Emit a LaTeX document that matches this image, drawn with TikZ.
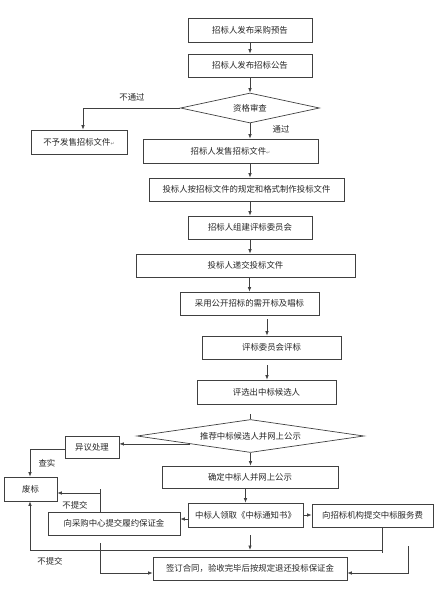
\documentclass[tikz,border=0pt]{standalone}
\usepackage{fontspec}
\setmainfont{Noto Sans CJK SC}
\newfontfamily\djv{DejaVu Sans}
\usetikzlibrary{arrows.meta,shapes.geometric,calc}
\newcommand{\pmark}{{\djv\fontsize{5}{5}\selectfont\color{gray}↵}}
\begin{document}
\begin{tikzpicture}[x=1pt,y=-1pt,
  every node/.style={font=\fontsize{8.4}{9}\selectfont, text=black!85},
  box/.style={draw=black!75, line width=0.7pt, rectangle, inner sep=1pt},
  dia/.style={draw=black!75, line width=0.7pt, diamond, aspect=4, inner sep=0pt},
  ln/.style={draw=black!75, line width=0.7pt},
  arr/.style={ln, -{Latex[length=4.5pt,width=3.5pt]}},
  lab/.style={inner sep=0pt}]
\useasboundingbox (0,0) rectangle (441,606);
% nodes
\node[box, minimum width=124pt, minimum height=24pt] (b1) at (250,30) {招标人发布采购预告};
\node[box, minimum width=124pt, minimum height=23pt] (b2) at (250,65.5) {招标人发布招标公告};
\node[dia, minimum width=139pt, minimum height=30pt] (d1) at (250,108) {资格审查};
\node[box, minimum width=96pt, minimum height=24pt] (bn) at (79,142) {不予发售招标文件\pmark};
\node[box, minimum width=175pt, minimum height=24pt] (b3) at (230.5,151) {招标人发售招标文件\pmark};
\node[box, minimum width=195pt, minimum height=23pt] (b4) at (246.5,189.5) {投标人按招标文件的规定和格式制作投标文件};
\node[box, minimum width=124pt, minimum height=23pt] (b5) at (250,227.5) {招标人组建评标委员会};
\node[box, minimum width=219pt, minimum height=23pt] (b6) at (245.5,265.5) {投标人递交投标文件};
\node[box, minimum width=139pt, minimum height=23pt] (b7) at (249.5,303.5) {采用公开招标的需开标及唱标};
\node[box, minimum width=139pt, minimum height=23pt] (b8) at (271.5,347.5) {评标委员会评标};
\node[box, minimum width=139pt, minimum height=24pt] (b9) at (266.5,392) {评选出中标候选人};
\node[dia, minimum width=227pt, minimum height=30pt] (d2) at (250.5,436) {推荐中标候选人并网上公示};
\node[box, minimum width=54pt, minimum height=22pt] (byi) at (92,447) {异议处理};
\node[box, minimum width=53pt, minimum height=24pt] (bfei) at (30.5,489) {废标};
\node[box, minimum width=176pt, minimum height=22pt] (bque) at (250,477) {确定中标人并网上公示};
\node[box, minimum width=115pt, minimum height=24pt] (bzb) at (245.5,515) {中标人领取《中标通知书》};
\node[box, minimum width=121pt, minimum height=23pt] (bfw) at (372.5,515.5) {向招标机构提交中标服务费};
\node[box, minimum width=132pt, minimum height=23pt] (bcg) at (114,523.5) {向采购中心提交履约保证金};
\node[box, minimum width=194pt, minimum height=23pt] (bht) at (250,568.5) {签订合同，验收完毕后按规定退还投标保证金};
% labels
\node[lab] (l1) at (132,97) {不通过};
\node[lab] (l2) at (281,129) {通过};
\node[lab] (l3) at (47,463) {查实};
\node[lab] (l4) at (75,505) {不提交};
\node[lab] (l5) at (50,561) {不提交};
% helper coordinates
\coordinate (cA) at (83,108);
\coordinate (cB) at (30,449);
\coordinate (cC) at (100,489);
\coordinate (cD) at (100,493);
\coordinate (cE) at (100,573);
\coordinate (cL) at (30,550);
\coordinate (cR) at (382,550);
\coordinate (cM) at (250,550);
\coordinate (cF) at (408,546);
\coordinate (cG) at (408,573);
\coordinate (cX) at (267,0);
\coordinate (cQ) at ($(d2.west)!0.47!(d2.south)$);
% connectors
\draw[arr] (b1) -- (b2);
\draw[arr] (b2) -- (d1);
\draw[arr] (d1.west) -- (cA) -- (bn.north -| cA);
\draw[arr] (d1.south) -- (d1.south |- b3.north);
\draw[arr] (b3.south -| b5.north) -- (b4.north -| b5.north);
\draw[arr] (b4.south -| b5.north) -- (b5.north);
\draw[arr] (b5) -- (b6.north -| b5.south);
\draw[arr] (b6.south -| b7.north) -- (b7.north);
\draw[arr, shorten <=4pt] (b7.south -| cX) -- (b8.north -| cX);
\draw[arr, shorten <=6pt] (b8.south -| cX) -- (b9.north -| cX);
\draw[ln, shorten <=10pt] (b9.south -| d2.north) -- (d2.north);
\draw[arr] (cQ) -- (cQ -| byi.east);
\draw[arr] (byi.west |- cB) -- (cB) -- (bfei.north -| cB);
\draw[arr] (d2.south) -- (d2.south |- bque.north);
\draw[arr] (bque.south -| bzb.north) -- (bzb.north);
\draw[arr] (bzb.east) -- (bfw.west |- bzb.east);
\draw[arr] ($(bzb.west)+(0,4)$) -- ($(bcg.east |- bzb.west)+(0,4)$);
\draw[ln] (bcg.north -| cC) -- (cC);
\draw[arr] (cD) -- (cD -| bfei.east);
\draw[arr, shorten <=8pt] (bcg.south -| cE) -- (cE) -- (bht.west |- cE);
\draw[ln] (bfw.south -| cR) -- ($(cR)+(0,3)$);
\draw[ln] (cR) -- (cL);
\draw[arr] (cL) -- (bfei.south -| cL);
\draw[arr, shorten <=8pt] (bzb.south -| cM) -- (cM);
\draw[arr] (cF) -- (cG) -- (bht.east |- cG);
\end{tikzpicture}
\end{document}
